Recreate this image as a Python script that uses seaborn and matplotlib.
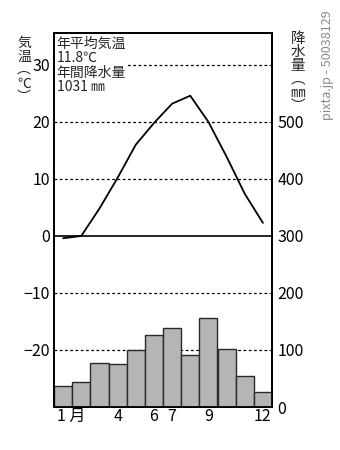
import matplotlib
matplotlib.use("Agg")
import matplotlib.pyplot as plt
import matplotlib.transforms as mtransforms
import seaborn as sns
import pandas as pd

months = list(range(1, 13))
temperature = [-0.4, 0.0, 4.8, 10.2, 16.0, 19.8, 23.2, 24.6, 20.0, 13.9, 7.4, 2.3]
precipitation = [36, 43, 78, 75, 100, 126, 139, 92, 156, 101, 55, 27]
month_ticks = [1, 4, 6, 7, 9, 12]
month_labels = ["1 月", "4", "6", "7", "9", "12"]
temp_ticks = [30, 20, 10, 0, -10, -20]
temp_labels = ["30", "20", "10", "0", "−10", "−20"]
prec_ticks = [500, 400, 300, 200, 100, 0]
summary = "年平均気温\n11.8℃\n年間降水量\n1031 ㎜"

sns.set_theme(style="white")
FAM = ["Noto Sans CJK JP", "DejaVu Sans"]
plt.rcParams["font.family"] = FAM

df = pd.DataFrame({"month": months, "temp": temperature, "prec": precipitation})

fig = plt.figure(figsize=(3.4, 4.5), dpi=100)
ax = fig.add_axes([54 / 340, 1 - 407 / 450, 218 / 340, 374 / 450])
ax2 = ax.twinx()

t_lo, t_hi = -30, 35.6
ax.set_ylim(t_lo, t_hi)
ax2.set_ylim((t_lo + 30) * 10, (t_hi + 30) * 10)
ax.set_xlim(0.5, 12.5)

for g in [30, 20, 10, -10, -20]:
    ax.axhline(g, color="black", lw=0.9, ls=(0, (2.2, 2.0)), zorder=1)
ax.axhline(0, color="black", lw=1.2, zorder=1)

sns.lineplot(data=df, x="month", y="temp", ax=ax, color="black", lw=1.3, zorder=3)

sns.barplot(data=df, x="month", y="prec", ax=ax2, native_scale=True, width=1,
            color="#b5b5b5", saturation=1, edgecolor="#2a2a2a", linewidth=1.0, zorder=2)
ax2.set_xlim(0.5, 12.5)

ax.set_xlabel("")
ax.set_ylabel("")
ax2.set_xlabel("")
ax2.set_ylabel("")

ax.set_yticks(temp_ticks)
ax.set_yticklabels(temp_labels, fontsize=11.5)
ax2.set_yticks(prec_ticks)
ax2.set_yticklabels([str(v) for v in prec_ticks], fontsize=11.5)
ax.set_xticks(month_ticks)
ax.set_xticklabels(month_labels, fontsize=11.5)
ax2.set_xticks(month_ticks)
ax.tick_params(axis="both", length=0, pad=3, colors="black")
ax2.tick_params(axis="both", length=0, pad=4, colors="black")
ax.tick_params(axis="x", pad=1)
first = ax.get_xticklabels()[0]
first.set_horizontalalignment("left")
first.set_transform(first.get_transform() + mtransforms.ScaledTranslation(-6 / 100, 0, fig.dpi_scale_trans))

for a in (ax, ax2):
    for s in a.spines.values():
        s.set_color("black")
        s.set_linewidth(1.3)
        s.set_visible(True)

ax2.text(0.012, 0.99, summary, transform=ax.transAxes, ha="left", va="top",
         fontsize=10, linespacing=1.05, family=FAM,
         bbox=dict(facecolor="white", edgecolor="none", pad=1.5), zorder=5)

fig.text(24 / 340, 1 - 36 / 450, "気\n温\n︵\n℃\n︶", ha="center", va="top", fontsize=10, linespacing=0.95)
fig.text(298 / 340, 1 - 32 / 450, "降\n水\n量\n︵\n㎜\n︶", ha="center", va="top", fontsize=10.5, linespacing=0.95)
fig.text(328 / 340, 1 - 10 / 450, "pixta.jp - 50038129", ha="center", va="top", fontsize=9,
         rotation=90, color="#888888")

fig.savefig("out.png", dpi=100)
